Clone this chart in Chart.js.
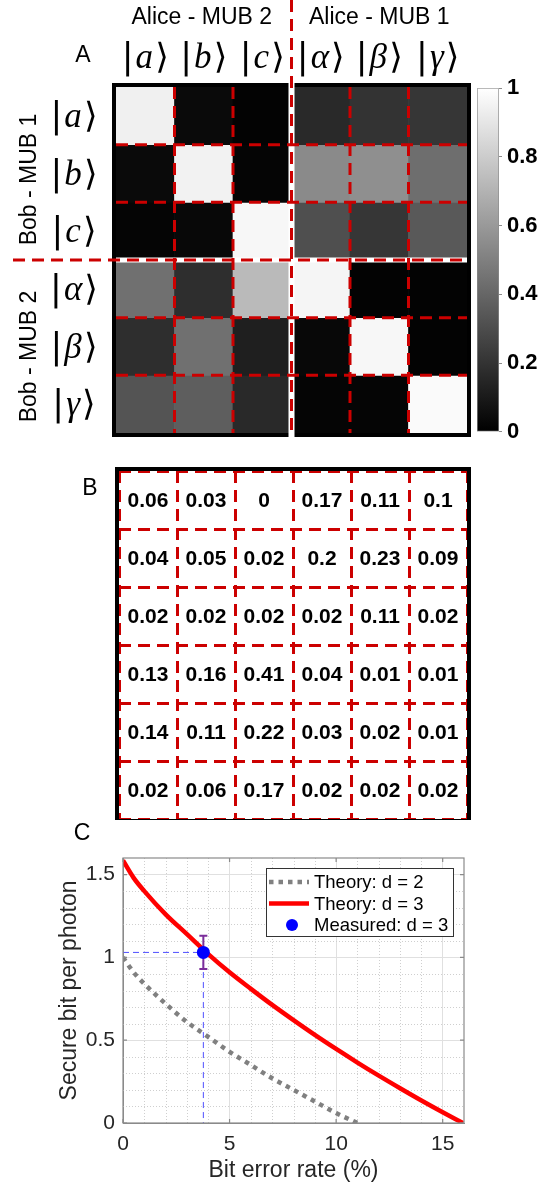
<!DOCTYPE html>
<html>
<head>
<meta charset="utf-8">
<title>MUB crosstalk and secure key rate</title>
<script src="https://cdn.jsdelivr.net/npm/chart.js@4.4.1/dist/chart.umd.min.js"></script>
<style>
    html, body { margin: 0; padding: 0; background: #fff; }
    body { position: relative; width: 547px; height: 1186px; overflow: hidden; }
    canvas { position: absolute; display: block; }
</style>
</head>
<body>
<canvas id="heatmapChart" width="547" height="450" style="left:0;top:0"></canvas>
<canvas id="colorbarChart" width="77" height="380" style="left:470px;top:70px"></canvas>
<canvas id="tableChart" width="547" height="365" style="left:0;top:455px"></canvas>
<canvas id="rateChart" width="547" height="366" style="left:0;top:820px"></canvas>
<script>
(function() {
    'use strict';

    // ---- data ----
    const ketLetters = ['a', 'b', 'c', 'α', 'β', 'γ'];
    const aliceBases = ['Alice - MUB 2', 'Alice - MUB 1'];
    const bobBases = ['Bob - MUB 1', 'Bob - MUB 2'];

    // A: detection probability, rows = Bob state, columns = Alice state
    const probRowA     = [0.94, 0.04, 0.01, 0.16, 0.20, 0.21];
    const probRowB     = [0.04, 0.95, 0.02, 0.54, 0.56, 0.43];
    const probRowC     = [0.02, 0.03, 0.97, 0.31, 0.21, 0.35];
    const probRowAlpha = [0.44, 0.18, 0.73, 0.96, 0.01, 0.01];
    const probRowBeta  = [0.18, 0.44, 0.12, 0.03, 0.97, 0.01];
    const probRowGamma = [0.33, 0.37, 0.16, 0.02, 0.02, 0.98];
    const colorbarTicks = [0, 0.2, 0.4, 0.6, 0.8, 1];

    // B: uncertainties
    const errRow1 = [0.06, 0.03, 0, 0.17, 0.11, 0.1];
    const errRow2 = [0.04, 0.05, 0.02, 0.2, 0.23, 0.09];
    const errRow3 = [0.02, 0.02, 0.02, 0.02, 0.11, 0.02];
    const errRow4 = [0.13, 0.16, 0.41, 0.04, 0.01, 0.01];
    const errRow5 = [0.14, 0.11, 0.22, 0.03, 0.02, 0.01];
    const errRow6 = [0.02, 0.06, 0.17, 0.02, 0.02, 0.02];

    // C: secure key rate vs bit error rate
    const berD2  = [0, 0.5, 1, 2, 3, 4, 5, 6, 7, 8, 9, 10, 11];
    const rateD2 = [1.00, 0.91, 0.84, 0.72, 0.61, 0.52, 0.43, 0.35, 0.27, 0.20, 0.13, 0.06, 0.00];
    const berD3  = [0, 0.5, 1, 2, 3, 4, 5, 6, 7, 8, 9, 10, 11, 12, 13, 14, 15, 15.95];
    const rateD3 = [1.585, 1.48, 1.40, 1.26, 1.14, 1.02, 0.91, 0.81, 0.713, 0.621, 0.532, 0.447, 0.365, 0.286, 0.21, 0.136, 0.065, 0.00];
    const measuredBer = [3.77];
    const measuredRate = [1.03];
    const measuredErr = [0.10];

    const probRows = [probRowA, probRowB, probRowC, probRowAlpha, probRowBeta, probRowGamma];
    const errRows = [errRow1, errRow2, errRow3, errRow4, errRow5, errRow6];

    const sansFont = '"Liberation Sans", Arial, Helvetica, sans-serif';
    const dashRed = '#cc0000';

    function grayOf(v) {
        const g = Math.round(v * 255);
        return `rgb(${g},${g},${g})`;
    }

    function drawKet(ctx, letter, cx, cy, size) {
        const upright = size + 'px "DejaVu Sans", sans-serif';
        const italic = 'italic ' + size + 'px "Liberation Serif", "DejaVu Serif", serif';
        ctx.font = upright;
        const wBar = ctx.measureText('|').width;
        const wAng = ctx.measureText('⟩').width;
        ctx.font = italic;
        const wLet = ctx.measureText(letter).width;
        const gap = size * 0.06;
        let x = cx - (wBar + gap + wLet + gap + wAng) / 2;
        const base = cy + size * 0.32;
        ctx.textAlign = 'left';
        ctx.textBaseline = 'alphabetic';
        ctx.fillStyle = '#000';
        ctx.font = upright;
        ctx.fillText('|', x, base);
        x += wBar + gap;
        ctx.font = italic;
        ctx.fillText(letter, x, base);
        x += wLet + gap;
        ctx.font = upright;
        ctx.fillText('⟩', x, base);
    }

    function dashedLine(ctx, x1, y1, x2, y2) {
        ctx.save();
        ctx.strokeStyle = dashRed;
        ctx.lineWidth = 3;
        ctx.setLineDash([12, 7]);
        ctx.beginPath();
        ctx.moveTo(x1, y1);
        ctx.lineTo(x2, y2);
        ctx.stroke();
        ctx.restore();
    }

    // ---- A: heatmap decorations ----
    const heatmapDecor = {
        id: 'heatmapDecor',
        afterDatasetsDraw(chart) {
            const ctx = chart.ctx;
            const a = chart.chartArea;
            const xs = chart.scales.x, ys = chart.scales.y;
            const colEdge = i => {
                if (i <= 0) return a.left;
                if (i >= ketLetters.length) return a.right;
                return (xs.getPixelForValue(i - 1) + xs.getPixelForValue(i)) / 2;
            };
            const rowEdge = i => ys.getPixelForValue(i);
            const xGap = colEdge(3), yGap = rowEdge(3);

            ctx.save();
            // outer frame
            ctx.strokeStyle = '#000';
            ctx.lineWidth = 4;
            ctx.strokeRect(a.left - 2, a.top - 2, a.right - a.left + 4, a.bottom - a.top + 4);

            // white gaps between the basis blocks
            ctx.strokeStyle = '#fff';
            ctx.lineWidth = 6;
            ctx.beginPath();
            ctx.moveTo(xGap, a.top - 5);
            ctx.lineTo(xGap, a.bottom + 5);
            ctx.stroke();
            ctx.lineWidth = 5;
            ctx.beginPath();
            ctx.moveTo(a.left, yGap);
            ctx.lineTo(a.right, yGap);
            ctx.stroke();

            // red dashed cell grid
            [1, 2, 4, 5].forEach(k => {
                dashedLine(ctx, colEdge(k), a.top, colEdge(k), a.bottom);
                dashedLine(ctx, a.left, rowEdge(k), a.right, rowEdge(k));
            });
            dashedLine(ctx, xGap, 0, xGap, a.bottom + 4);
            dashedLine(ctx, 13, yGap, a.right, yGap);

            // column and row labels
            ketLetters.forEach((l, i) => {
                drawKet(ctx, l, xs.getPixelForValue(i), 57, 35);
                drawKet(ctx, l, 74, (rowEdge(i) + rowEdge(i + 1)) / 2, 35);
            });

            ctx.fillStyle = '#000';
            ctx.textAlign = 'center';
            ctx.textBaseline = 'middle';
            ctx.font = '23px ' + sansFont;
            ctx.fillText(aliceBases[0], (a.left + xGap) / 2 - 2, 18);
            ctx.fillText(aliceBases[1], (xGap + a.right) / 2, 18);
            ctx.font = '23px ' + sansFont;
            ctx.fillText('A', 83, 56);

            ctx.font = '23px ' + sansFont;
            [[bobBases[0], (a.top + yGap) / 2 + 6], [bobBases[1], (yGap + a.bottom) / 2 + 10]].forEach(([t, cy]) => {
                ctx.save();
                ctx.translate(30, cy);
                ctx.rotate(-Math.PI / 2);
                ctx.fillText(t, 0, 0);
                ctx.restore();
            });
            ctx.restore();
        }
    };

    new Chart(document.getElementById('heatmapChart'), {
        type: 'bar',
        data: {
            labels: ketLetters,
            datasets: probRows.map((row, r) => ({
                data: row.map(() => [r, r + 1]),
                backgroundColor: row.map(grayOf),
                borderWidth: 0,
                grouped: false,
                barPercentage: 1,
                categoryPercentage: 1
            }))
        },
        options: {
            responsive: false,
            animation: false,
            layout: { padding: { left: 116, right: 80, top: 87, bottom: 17 } },
            scales: {
                x: { display: false },
                y: { display: false, min: 0, max: 6, reverse: true }
            },
            plugins: { legend: { display: false }, tooltip: { enabled: false } }
        },
        plugins: [heatmapDecor]
    });

    // colorbar
    new Chart(document.getElementById('colorbarChart'), {
        type: 'bar',
        data: {
            labels: ['scale'],
            datasets: [{
                data: [[0, 1]],
                backgroundColor: (c) => {
                    const area = c.chart.chartArea;
                    if (!area) return '#888';
                    const g = c.chart.ctx.createLinearGradient(0, area.bottom, 0, area.top);
                    g.addColorStop(0, '#000');
                    g.addColorStop(1, '#fff');
                    return g;
                },
                borderColor: '#8c8c8c',
                borderWidth: 1,
                borderSkipped: false,
                barPercentage: 1,
                categoryPercentage: 1
            }]
        },
        options: {
            responsive: false,
            animation: false,
            layout: { padding: { left: 7, right: 0, top: 15, bottom: 15 } },
            scales: {
                x: { display: false },
                y: {
                    position: 'right',
                    min: 0,
                    max: 1,
                    afterBuildTicks: (s) => { s.ticks = colorbarTicks.map(v => ({ value: v })); },
                    ticks: {
                        color: '#000',
                        padding: 5,
                        font: { family: sansFont, size: 22, weight: 'bold' },
                        callback: (v) => String(v)
                    },
                    grid: { drawOnChartArea: false, tickLength: 3, color: '#8c8c8c' },
                    border: { display: false },
                    afterFit: (s) => { s.width = 48; }
                }
            },
            plugins: { legend: { display: false }, tooltip: { enabled: false } }
        }
    });

    // ---- B: table of values ----
    const tableCells = [];
    errRows.forEach((row, r) => row.forEach((v, c) => tableCells.push({ x: c + 0.5, y: r + 0.5, v: v })));

    const tableDecor = {
        id: 'tableDecor',
        afterDatasetsDraw(chart) {
            const ctx = chart.ctx;
            const a = chart.chartArea;
            const meta = chart.getDatasetMeta(0);
            ctx.save();
            ctx.fillStyle = '#000';
            ctx.textAlign = 'center';
            ctx.textBaseline = 'middle';
            ctx.font = 'bold 21px ' + sansFont;
            meta.data.forEach((pt, i) => {
                ctx.fillText(String(tableCells[i].v), pt.x, pt.y + 1);
            });
            ctx.strokeStyle = '#000';
            ctx.lineWidth = 4;
            ctx.strokeRect(a.left - 2, a.top - 2, a.right - a.left + 4, a.bottom - a.top + 4);
            ctx.font = '23px ' + sansFont;
            ctx.fillText('B', 90, 34);
            ctx.restore();
        }
    };

    const tableAxis = {
        type: 'linear',
        min: 0,
        max: 6,
        ticks: { display: false, stepSize: 1 },
        grid: { color: dashRed, lineWidth: 3, drawTicks: false },
        border: { display: false, dash: [12, 7] }
    };

    new Chart(document.getElementById('tableChart'), {
        type: 'scatter',
        data: { datasets: [{ data: tableCells, pointRadius: 0 }] },
        options: {
            responsive: false,
            animation: false,
            layout: { padding: { left: 119, right: 80, top: 16, bottom: 1 } },
            scales: {
                x: Object.assign({}, tableAxis, { afterFit: (s) => { s.height = 0; } }),
                y: Object.assign({}, tableAxis, { reverse: true, afterFit: (s) => { s.width = 0; } })
            },
            plugins: { legend: { display: false }, tooltip: { enabled: false } }
        },
        plugins: [tableDecor]
    });

    // ---- C: secure key rate ----
    const axisGray = '#8a8a8a';
    const textGray = '#262626';

    const rateDecor = {
        id: 'rateDecor',
        beforeDatasetsDraw(chart) {
            const ctx = chart.ctx;
            const a = chart.chartArea;
            const xs = chart.scales.x, ys = chart.scales.y;
            ctx.save();
            ctx.strokeStyle = '#cfcfcf';
            ctx.lineWidth = 1;
            ctx.setLineDash([1, 2]);
            for (let v = 1; v < xs.max; v += 1) {
                if (v % 5 === 0) continue;
                const px = Math.round(xs.getPixelForValue(v)) + 0.5;
                ctx.beginPath(); ctx.moveTo(px, a.top); ctx.lineTo(px, a.bottom); ctx.stroke();
            }
            for (let k = 1; k < 16; k++) {
                if (k % 5 === 0) continue;
                const py = Math.round(ys.getPixelForValue(k / 10)) + 0.5;
                ctx.beginPath(); ctx.moveTo(a.left, py); ctx.lineTo(a.right, py); ctx.stroke();
            }
            ctx.restore();
        },
        beforeDatasetDraw(chart, args) {
            if (args.index !== 0) return;
            const ctx = chart.ctx;
            const xs = chart.scales.x, ys = chart.scales.y;
            ctx.save();
            ctx.strokeStyle = '#7b2d9a';
            ctx.lineWidth = 2;
            measuredBer.forEach((b, i) => {
                const px = xs.getPixelForValue(b);
                const top = ys.getPixelForValue(measuredRate[i] + measuredErr[i]);
                const bot = ys.getPixelForValue(measuredRate[i] - measuredErr[i]);
                ctx.beginPath();
                ctx.moveTo(px, top); ctx.lineTo(px, bot);
                ctx.moveTo(px - 4, top); ctx.lineTo(px + 4, top);
                ctx.moveTo(px - 4, bot); ctx.lineTo(px + 4, bot);
                ctx.stroke();
            });
            ctx.restore();
        },
        afterDraw(chart) {
            const ctx = chart.ctx;
            const a = chart.chartArea;
            const xs = chart.scales.x, ys = chart.scales.y;
            ctx.save();
            // axes box and inward ticks
            ctx.strokeStyle = axisGray;
            ctx.lineWidth = 1.2;
            ctx.strokeRect(a.left, a.top, a.right - a.left, a.bottom - a.top);
            ctx.beginPath();
            xs.ticks.forEach(t => {
                const px = xs.getPixelForValue(t.value);
                ctx.moveTo(px, a.bottom); ctx.lineTo(px, a.bottom - 4);
                ctx.moveTo(px, a.top); ctx.lineTo(px, a.top + 4);
            });
            ys.ticks.forEach(t => {
                const py = ys.getPixelForValue(t.value);
                ctx.moveTo(a.left, py); ctx.lineTo(a.left + 4, py);
                ctx.moveTo(a.right, py); ctx.lineTo(a.right - 4, py);
            });
            ctx.stroke();

            // legend box
            const lw = 187, lh = 68;
            const lx = a.right - 11 - lw, ly = a.top + 10;
            ctx.fillStyle = '#fff';
            ctx.fillRect(lx, ly, lw, lh);
            ctx.strokeStyle = '#333';
            ctx.lineWidth = 1;
            ctx.strokeRect(lx + 0.5, ly + 0.5, lw, lh);
            const entries = chart.data.datasets.filter(d => d.legendRow !== undefined)
                .sort((p, q) => p.legendRow - q.legendRow);
            ctx.font = '18.5px ' + sansFont;
            ctx.textAlign = 'left';
            ctx.textBaseline = 'middle';
            entries.forEach((d, i) => {
                const cy = ly + 14 + i * 21.5;
                if (d.showLine === false) {
                    ctx.fillStyle = d.backgroundColor;
                    ctx.beginPath();
                    ctx.arc(lx + 26, cy, 6, 0, Math.PI * 2);
                    ctx.fill();
                } else {
                    ctx.strokeStyle = d.borderColor;
                    ctx.lineWidth = d.borderWidth;
                    ctx.setLineDash(d.borderDash || []);
                    ctx.beginPath();
                    ctx.moveTo(lx + 3, cy); ctx.lineTo(lx + 43, cy);
                    ctx.stroke();
                    ctx.setLineDash([]);
                }
                ctx.fillStyle = '#000';
                ctx.fillText(d.label, lx + 48, cy + 1);
            });

            ctx.fillStyle = '#000';
            ctx.textAlign = 'center';
            ctx.font = '23px ' + sansFont;
            ctx.fillText('C', 82, 14);
            ctx.restore();
        }
    };

    const toPoints = (xsArr, ysArr) => xsArr.map((x, i) => ({ x: x, y: ysArr[i] }));

    new Chart(document.getElementById('rateChart'), {
        type: 'scatter',
        data: {
            datasets: [
                {
                    label: 'Measured: d = 3',
                    legendRow: 2,
                    data: toPoints(measuredBer, measuredRate),
                    showLine: false,
                    backgroundColor: '#0000ff',
                    borderWidth: 0,
                    pointRadius: 6.5,
                    order: 0
                },
                {
                    label: 'Theory: d = 3',
                    legendRow: 1,
                    data: toPoints(berD3, rateD3),
                    showLine: true,
                    borderColor: '#ff0000',
                    borderWidth: 4.5,
                    pointRadius: 0,
                    cubicInterpolationMode: 'monotone',
                    order: 1
                },
                {
                    label: 'Theory: d = 2',
                    legendRow: 0,
                    data: toPoints(berD2, rateD2),
                    showLine: true,
                    borderColor: '#808080',
                    borderWidth: 4.5,
                    borderDash: [4.5, 5],
                    pointRadius: 0,
                    cubicInterpolationMode: 'monotone',
                    order: 2
                },
                {
                    label: 'guide',
                    data: [
                        { x: 0, y: measuredRate[0] },
                        { x: measuredBer[0], y: measuredRate[0] },
                        { x: measuredBer[0], y: 0 }
                    ],
                    showLine: true,
                    borderColor: '#4f4fff',
                    borderWidth: 1,
                    borderDash: [6, 4],
                    pointRadius: 0,
                    order: 3
                }
            ]
        },
        options: {
            responsive: false,
            animation: false,
            layout: { padding: { left: 0, right: 83, top: 38, bottom: 0 } },
            scales: {
                x: {
                    type: 'linear',
                    min: 0,
                    max: 16,
                    ticks: {
                        stepSize: 5,
                        includeBounds: false,
                        maxRotation: 0,
                        padding: 9,
                        color: textGray,
                        font: { family: sansFont, size: 21 },
                        callback: (v) => String(v)
                    },
                    grid: { color: '#e0e0e0', drawTicks: false },
                    border: { color: axisGray },
                    title: {
                        display: true,
                        text: 'Bit error rate (%)',
                        color: textGray,
                        font: { family: sansFont, size: 23 },
                        padding: { top: 0, bottom: 2 }
                    },
                    afterFit: (s) => { s.height = 63; }
                },
                y: {
                    min: 0,
                    max: 1.6,
                    ticks: {
                        stepSize: 0.5,
                        includeBounds: false,
                        padding: 8,
                        color: textGray,
                        font: { family: sansFont, size: 21 },
                        callback: (v) => String(v)
                    },
                    grid: { color: '#e0e0e0', drawTicks: false },
                    border: { color: axisGray },
                    title: {
                        display: true,
                        text: 'Secure bit per photon',
                        color: textGray,
                        font: { family: sansFont, size: 23 },
                        padding: { top: 56, bottom: 0 }
                    },
                    afterFit: (s) => { s.width = 123; }
                }
            },
            plugins: { legend: { display: false }, tooltip: { enabled: false } }
        },
        plugins: [rateDecor]
    });
})();
</script>
</body>
</html>
